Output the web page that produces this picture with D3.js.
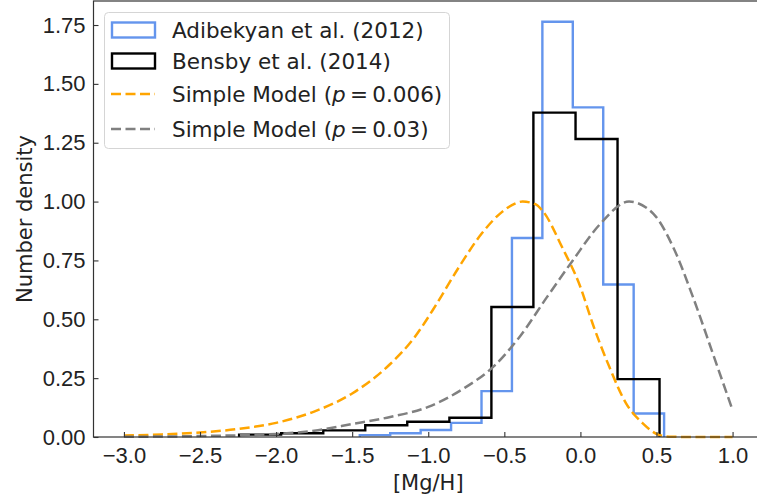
<!DOCTYPE html>
<html lang="en">
<head>
<meta charset="utf-8">
<title>Mg/H histogram</title>
<script src="https://cdn.jsdelivr.net/npm/d3@7"></script>
<style>
    body { margin: 0; background: #fff; }
    svg { display: block; font-family: "DejaVu Sans", sans-serif; }
    .axis text { font-size: 22px; fill: #222; }
    .axis line { stroke: #333; stroke-width: 1.1; }
    .axis path { display: none; }
    .label { font-size: 21px; fill: #222; }
    .legend text { font-size: 21.5px; fill: #222; }
</style>
</head>
<body>
<script>
// histogram bin edges and densities
var blueEdges = [-1.45, -1.25, -1.05, -0.85, -0.65, -0.45, -0.25, -0.05, 0.15, 0.35, 0.55];
var blueDensity = [0.008, 0.016, 0.03, 0.06, 0.195, 0.845, 1.764, 1.40, 0.648, 0.10];

var blackEdges = [-2.243, -1.967, -1.690, -1.414, -1.138, -0.861, -0.585, -0.309, -0.032, 0.244, 0.520];
var blackDensity = [0.01, 0.016, 0.028, 0.05, 0.065, 0.082, 0.552, 1.378, 1.266, 0.246];

// model curves (p = 0.006 orange, p = 0.03 gray)
var orangeX = [-3.0, -2.75, -2.5, -2.25, -2.0, -1.75, -1.5, -1.25, -1.1, -0.95, -0.8, -0.65, -0.53, -0.45, -0.38, -0.3, -0.25, -0.12, 0.0, 0.08, 0.19, 0.3, 0.41, 0.52, 0.6, 0.8, 1.0];
var orangeY = [0.006, 0.011, 0.019, 0.034, 0.06, 0.108, 0.185, 0.31, 0.415, 0.56, 0.72, 0.863, 0.948, 0.985, 1.0, 0.99, 0.962, 0.806, 0.637, 0.482, 0.298, 0.143, 0.058, 0.008, 0.001, 0.0, 0.0];

var grayX = [-3.0, -2.5, -2.0, -1.75, -1.5, -1.25, -1.0, -0.77, -0.57, -0.4, -0.22, -0.05, 0.13, 0.32, 0.48, 0.61, 0.74, 0.87, 1.0];
var grayY = [0.001, 0.004, 0.013, 0.027, 0.055, 0.085, 0.128, 0.205, 0.3, 0.425, 0.594, 0.75, 0.905, 1.0, 0.948, 0.806, 0.594, 0.355, 0.114];

var xTicks = [-3.0, -2.5, -2.0, -1.5, -1.0, -0.5, 0.0, 0.5, 1.0];
var yTicks = [0, 0.25, 0.5, 0.75, 1.0, 1.25, 1.5, 1.75];

var legendLabels = ["Adibekyan et al. (2012)", "Bensby et al. (2014)", "Simple Model (", "Simple Model ("];
var legendP = ["", "", "0.006", "0.03"];

var w = 757, h = 498;
var mLeft = 93.5, mRight = 763, mTop = 1, mBottom = 437;
var dash = "10,4.5";

var svg = d3.select("body").append("svg")
    .attr("width", w)
    .attr("height", h);

var x = d3.scaleLinear().domain([-3.2, 1.2]).range([mLeft, mRight]);
var y = d3.scaleLinear().domain([0, 1.852]).range([mBottom, mTop]);

// step outline like histtype='step'
function stepPoints(edges, dens) {
    var pts = [[edges[0], 0]];
    dens.forEach(function(d, i) {
        pts.push([edges[i], d]);
        pts.push([edges[i + 1], d]);
    });
    pts.push([edges[edges.length - 1], 0]);
    return pts;
}

var line = d3.line()
    .x(function(d) { return x(d[0]); })
    .y(function(d) { return y(d[1]); });

var curve = d3.line()
    .x(function(d) { return x(d[0]); })
    .y(function(d) { return y(d[1]); })
    .curve(d3.curveMonotoneX);

var plot = svg.append("g");

plot.append("path")
    .datum(stepPoints(blueEdges, blueDensity))
    .attr("d", line)
    .attr("fill", "none")
    .attr("stroke", "#6495ED")
    .attr("stroke-width", 2.4);

plot.append("path")
    .datum(stepPoints(blackEdges, blackDensity))
    .attr("d", line)
    .attr("fill", "none")
    .attr("stroke", "#000")
    .attr("stroke-width", 2.4);

plot.append("path")
    .datum(d3.zip(orangeX, orangeY))
    .attr("d", curve)
    .attr("fill", "none")
    .attr("stroke", "#FFA500")
    .attr("stroke-width", 2.5)
    .attr("stroke-dasharray", dash);

plot.append("path")
    .datum(d3.zip(grayX, grayY))
    .attr("d", curve)
    .attr("fill", "none")
    .attr("stroke", "#808080")
    .attr("stroke-width", 2.5)
    .attr("stroke-dasharray", dash);

// axes with inward ticks
var fmtX = d3.format(".1f");
var fmtY = d3.format(".2f");

svg.append("g")
    .attr("class", "axis")
    .attr("transform", "translate(0," + mBottom + ")")
    .call(d3.axisBottom(x).tickValues(xTicks).tickSize(-5).tickPadding(10).tickFormat(fmtX));

svg.append("g")
    .attr("class", "axis")
    .attr("transform", "translate(" + mLeft + ",0)")
    .call(d3.axisLeft(y).tickValues(yTicks).tickSize(-5).tickPadding(8).tickFormat(fmtY));

// frame
svg.append("rect")
    .attr("x", mLeft)
    .attr("y", mTop)
    .attr("width", mRight - mLeft)
    .attr("height", mBottom - mTop)
    .attr("fill", "none")
    .attr("stroke", "#333")
    .attr("stroke-width", 1.2);

svg.append("text")
    .attr("class", "label")
    .attr("x", (mLeft + mRight) / 2)
    .attr("y", 490)
    .attr("text-anchor", "middle")
    .text("[Mg/H]");

svg.append("text")
    .attr("class", "label")
    .attr("transform", "translate(32," + ((mTop + mBottom) / 2) + ") rotate(-90)")
    .attr("text-anchor", "middle")
    .text("Number density");

// legend
var lg = svg.append("g").attr("class", "legend");

lg.append("rect")
    .attr("x", 104.5)
    .attr("y", 12.5)
    .attr("width", 345)
    .attr("height", 136)
    .attr("rx", 4)
    .attr("fill", "#fff")
    .attr("fill-opacity", 0.85)
    .attr("stroke", "#d5d5d5")
    .attr("stroke-width", 1);

var rowY = [30, 61, 94, 129];

lg.append("rect").attr("x", 112).attr("y", rowY[0] - 7.5).attr("width", 43).attr("height", 15)
    .attr("fill", "none").attr("stroke", "#6495ED").attr("stroke-width", 2.4);
lg.append("rect").attr("x", 112).attr("y", rowY[1] - 7.5).attr("width", 43).attr("height", 15)
    .attr("fill", "none").attr("stroke", "#000").attr("stroke-width", 2.4);
lg.append("line").attr("x1", 111).attr("x2", 155).attr("y1", rowY[2]).attr("y2", rowY[2])
    .attr("stroke", "#FFA500").attr("stroke-width", 2.5).attr("stroke-dasharray", dash);
lg.append("line").attr("x1", 111).attr("x2", 155).attr("y1", rowY[3]).attr("y2", rowY[3])
    .attr("stroke", "#808080").attr("stroke-width", 2.5).attr("stroke-dasharray", dash);

legendLabels.forEach(function(t, i) {
    var txt = lg.append("text")
        .attr("x", 172)
        .attr("y", rowY[i])
        .attr("dy", "0.36em");
    txt.append("tspan").text(t);
    if (legendP[i]) {
        txt.append("tspan").attr("font-style", "italic").text("p");
        txt.append("tspan").text("\u2009=\u2009" + legendP[i] + ")");
    }
});
</script>
</body>
</html>
